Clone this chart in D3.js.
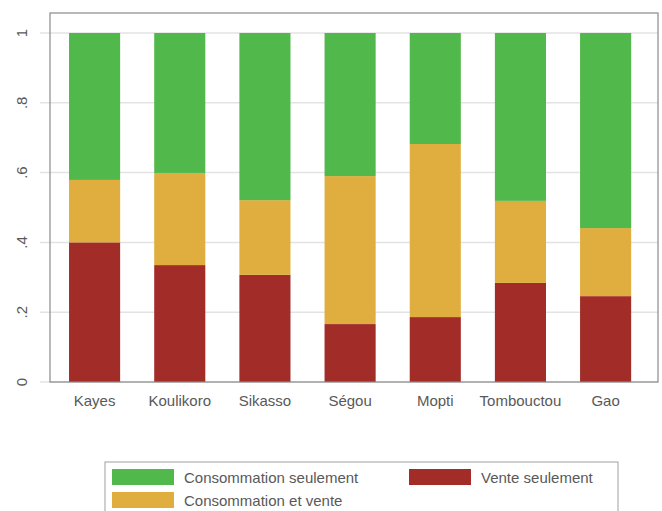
<!DOCTYPE html>
<html><head><meta charset="utf-8">
<script src="https://cdn.jsdelivr.net/npm/d3@7"></script>
<style>body{margin:0;background:#fff;}svg{display:block;font-family:"Liberation Sans",Arial,sans-serif;}</style>
</head><body>
<svg id="c" width="662" height="511"></svg>
<script>
const categories = ["Kayes","Koulikoro","Sikasso","Ségou","Mopti","Tombouctou","Gao"];
const venteSeulement = [0.400,0.335,0.307,0.166,0.186,0.284,0.246];
const consoEtVente = [0.179,0.264,0.214,0.424,0.496,0.235,0.195];
const consoSeulement = [0.421,0.401,0.479,0.410,0.318,0.481,0.559];
const yTicks = [0,0.2,0.4,0.6,0.8,1];
const yTickLabels = ["0",".2",".4",".6",".8","1"];
const seriesNames = ["Vente seulement","Consommation et vente","Consommation seulement"];
const colors = ["#a12c28","#e0ae3e","#51b84b"];

const svg = d3.select("#c");
const L=50, R=658, T=13, B=382;
const x = d3.scaleBand().domain(categories).range([52,648.2]).paddingInner(0.4).paddingOuter(0.2);
const y = d3.scaleLinear().domain([0,1]).range([382,33]);

// gridlines
svg.append("g").selectAll("line").data(yTicks).join("line")
  .attr("x1",40).attr("x2",R).attr("y1",d=>y(d)).attr("y2",d=>y(d))
  .attr("stroke","#e3e3e3").attr("stroke-width",1.5);

// stacked data
const rows = categories.map((c,i)=>({cat:c, v:venteSeulement[i], cv:consoEtVente[i], cs:consoSeulement[i]}));
const stack = d3.stack().keys(["v","cv","cs"])(rows);
svg.append("g").selectAll("g").data(stack).join("g").attr("fill",(d,i)=>colors[i])
  .selectAll("rect").data(d=>d).join("rect")
  .attr("x",d=>x(d.data.cat)).attr("width",x.bandwidth())
  .attr("y",d=>y(d[1])).attr("height",d=>y(d[0])-y(d[1]));

// frame
svg.append("rect").attr("x",L).attr("y",T).attr("width",R-L).attr("height",B-T)
  .attr("fill","none").attr("stroke","#8a8a8a").attr("stroke-width",1.2);

// y labels
svg.append("g").selectAll("text").data(yTicks).join("text")
  .attr("transform",(d)=>`translate(26.5,${y(d)}) rotate(-90)`)
  .attr("text-anchor","middle").attr("font-size",15).attr("fill","#595959")
  .text((d,i)=>yTickLabels[i]);

// x labels
svg.append("g").selectAll("text").data(categories).join("text")
  .attr("x",d=>x(d)+x.bandwidth()/2).attr("y",406)
  .attr("text-anchor","middle").attr("font-size",15).attr("fill","#595959")
  .text(d=>d);

// legend
const lg = svg.append("g");
lg.append("rect").attr("x",105).attr("y",462).attr("width",513).attr("height",60)
  .attr("fill","#fff").attr("stroke","#a0a0a0").attr("stroke-width",1);
const legendItems = [
  {name:seriesNames[2], color:colors[2], x:112, y:469},
  {name:seriesNames[0], color:colors[0], x:409, y:469},
  {name:seriesNames[1], color:colors[1], x:112, y:492}
];
legendItems.forEach(it=>{
  lg.append("rect").attr("x",it.x).attr("y",it.y).attr("width",62).attr("height",16).attr("fill",it.color);
  lg.append("text").attr("x",it.x+72).attr("y",it.y+13.5).attr("font-size",15).attr("fill","#595959").text(it.name);
});
</script>
</body></html>
